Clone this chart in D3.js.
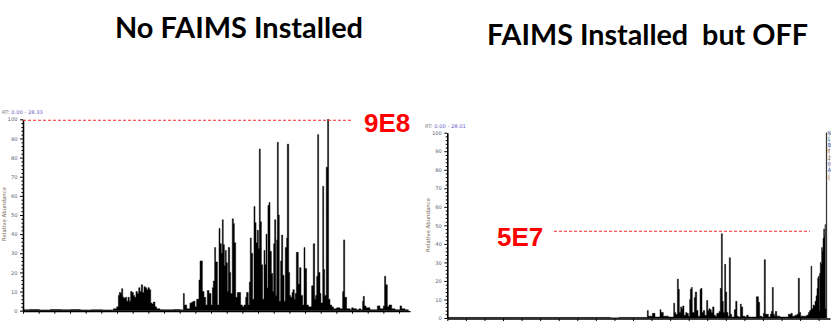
<!DOCTYPE html>
<html><head><meta charset="utf-8">
<script src="https://cdn.jsdelivr.net/npm/d3@7"></script>
<style>body{margin:0;background:#fff}svg{display:block}</style>
</head><body>
<svg id="c" width="831" height="321"></svg>
<script>
// ---------- data ----------
const titles = ["No FAIMS Installed", "FAIMS Installed  but OFF"];
const intensityLabels = ["9E8", "5E7"];
const rtRanges = ["RT: 0.00 - 28.33", "RT: 0.00 - 28.01"];
const yAxisTitle = "Relative Abundance";
const yMajorTicks = [0,10,20,30,40,50,60,70,80,90,100];
const yMinorTicks = [2,4,6,8,12,14,16,18,22,24,26,28,32,34,36,38,42,44,46,48,52,54,56,58,62,64,66,68,72,74,76,78,82,84,86,88,92,94,96,98];
const markerLevels = [99.5, 46.8];   // red dashed reference lines (% of base peak)
const rtMax = [28.33, 28.01];
const rtTickStep = [1.147, 1.359];
const legendLetters = ["N","L","B","F","2","H","A","("];
const legendColors = ["#4a6fa5","#2a9d9d","#3a6fc0","#b5651d","#8a7a60","#3a6fc0","#3a6fc0","#d08040"];

// [retention time (min), relative abundance (%)]
const leftTrace = [
[0,0.5],[0.5,0.6],[1.2,0.4],[2.0,0.6],[2.8,0.5],[3.5,0.6],[4.2,0.4],[5.0,0.5],[5.8,0.4],[6.5,0.3],
[6.61,1],[6.86,2],[6.98,8],[7.05,9.5],[7.15,9],[7.22,11.5],[7.30,7],[7.39,6.5],[7.49,7],[7.59,5],
[7.69,7],[7.78,5],[7.88,10],[7.98,9.5],[8.08,8],[8.17,7],[8.27,10],[8.37,9],[8.47,12],[8.56,10],
[8.66,13.5],[8.76,9.5],[8.86,12.5],[8.95,12],[9.05,11],[9.15,12],[9.25,11],[9.35,4],[9.44,3.5],[9.54,4.5],
[9.66,2],[9.78,1],[10.03,0.5],[10.52,0.5],[11.00,0.6],[11.49,0.5],[11.66,0.3],[11.74,9],[11.81,3],[11.98,1],
[12.22,4],[12.35,4.5],[12.47,5],[12.59,2],[12.71,6],[12.88,16],[12.96,26],[13.05,26],[13.13,10],[13.25,7],
[13.37,3],[13.49,10.5],[13.62,9],[13.76,3],[13.86,12],[13.93,15.5],[14.03,33],[14.10,25.5],[14.23,3],[14.35,43],
[14.42,35],[14.52,30],[14.59,47.5],[14.66,34.5],[14.74,23.5],[14.81,31.5],[14.88,25],[14.96,10],[15.03,33],[15.13,20],
[15.20,9],[15.32,48],[15.40,45.5],[15.47,35.5],[15.57,7],[15.69,9.5],[15.81,9.5],[15.93,3],[16.06,2],[16.18,3],
[16.30,7],[16.37,9.5],[16.49,3],[16.57,15],[16.64,38],[16.71,30],[16.81,6],[16.91,54.5],[16.98,46],[17.06,35.5],
[17.15,42],[17.23,32.5],[17.30,84.5],[17.37,46.5],[17.45,24],[17.54,6],[17.64,31.5],[17.71,24],[17.79,40],[17.86,12],
[17.93,55],[18.01,56.5],[18.08,31],[18.18,19.5],[18.28,10],[18.35,35],[18.42,47.5],[18.50,8],[18.57,37],[18.62,88],
[18.69,50],[18.76,5],[18.86,26],[18.93,39.5],[19.01,18.5],[19.11,5],[19.20,33],[19.30,38],[19.35,87],[19.45,20],
[19.52,8],[19.59,7],[19.69,9.5],[19.76,11],[19.86,6],[19.93,9],[20.01,30.5],[20.08,30.5],[20.15,14],[20.25,22.5],
[20.35,8],[20.47,3],[20.57,33],[20.64,22],[20.76,3],[20.89,2],[21.01,2],[21.13,13],[21.25,35],[21.35,6],
[21.42,8],[21.50,18],[21.57,92],[21.64,20],[21.74,9],[21.81,4],[21.94,65],[22.01,21.5],[22.08,8],[22.20,75],
[22.30,100],[22.37,6],[22.47,3],[22.59,2],[22.72,1],[22.96,1.5],[23.20,1],[23.40,10],[23.47,37],[23.55,7],
[23.69,1],[23.94,0.5],[24.06,1.5],[24.18,1],[24.42,0.5],[24.60,1],[24.72,0.5],[24.86,5],[24.91,7.5],[24.99,2.5],
[25.11,1.5],[25.40,0.5],[25.65,0.5],[25.94,2.5],[26.13,1],[26.38,2.5],[26.47,18],[26.55,13.5],[26.67,2],[26.79,3],
[26.99,1],[27.23,0.5],[27.60,2.5],[27.72,1],[27.96,0.5],[28.21,0.3]
];

const rightTrace = [
[0,0.3],[5,0.3],[10,0.3],[11.91,0.3],[11.93,0],[12.54,0],[12.57,0.3],[14.2,0.3],
[14.64,4],[14.71,1],[15.01,2.5],[15.10,2.5],[15.20,0.5],[15.57,4.5],[15.64,3],[15.81,1],[16.18,0.5],
[16.57,8],[16.64,3],[16.71,2],[16.84,21],[16.91,15.5],[16.98,3],[17.08,6],[17.15,5],[17.23,6.5],[17.32,1.5],
[17.45,3],[17.52,2.5],[17.64,1],[17.74,10],[17.79,15.5],[17.86,16.5],[17.93,3],[18.08,11],[18.15,14],[18.25,4],
[18.35,1],[18.50,15.5],[18.57,16],[18.64,3],[18.74,4],[18.84,1.5],[18.98,9.5],[19.06,4],[19.15,5],[19.23,4.5],
[19.32,3],[19.42,6],[19.52,1.5],[19.62,1],[19.72,2.5],[19.89,3.5],[19.98,16],[20.06,45.5],[20.13,9],[20.20,3],
[20.30,29],[20.37,14],[20.45,3],[20.54,1],[20.64,32.5],[20.72,2],[20.81,0.5],[21.01,4.5],[21.11,9],[21.20,1],
[21.30,0.5],[21.45,7.5],[21.52,6],[21.62,1],[21.79,0.5],[21.91,1.5],[22.03,0.5],[22.52,0.5],[22.62,11.5],[22.69,11.5],
[22.77,8.5],[22.86,1],[23.01,0.5],[23.13,2.5],[23.20,31.5],[23.28,2],[23.50,0.5],[23.64,2],[23.72,3.5],[23.79,16.5],
[23.86,2],[23.94,1],[24.01,3.5],[24.11,1],[24.35,0.5],[24.72,0.5],[24.96,2],[25.06,2],[25.16,2.5],[25.25,1],
[25.45,1.5],[25.60,2],[25.69,21.5],[25.77,3],[25.86,1],[26.06,1],[26.30,1.5],[26.43,3],[26.52,4],[26.62,28],
[26.67,5],[26.77,7],[26.84,6.5],[26.91,9],[26.99,12],[27.06,16],[27.11,21.5],[27.16,22.5],[27.21,4],[27.25,24],
[27.30,30],[27.35,29],[27.40,38],[27.45,36],[27.50,43],[27.55,48],[27.60,44],[27.65,50.5],[27.67,5],[27.72,2],
[27.74,100],[27.77,0]
];

// ---------- layout ----------
const panels = [
  {trace:leftTrace,  x0:23,    x1:410, yTop:119.3, yBot:310.7, markX:[23,351],  lab:{x:364,y:132.3}, rt:{x:2,y:114}, ytl:{x:6,y:214},
   title:{x:115,y:38, w:248}},
  {trace:rightTrace, x0:447.3, x1:830, yTop:132.7, yBot:318,   markX:[554,810], lab:{x:497,y:245.7}, rt:{x:425,y:127.5}, ytl:{x:430,y:225},
   title:{x:487,y:45, w:321}}
];

const svg = d3.select("#c");

panels.forEach((p, i) => {
  const x = d3.scaleLinear().domain([0, rtMax[i]]).range([p.x0, p.x1]);
  const y = d3.scaleLinear().domain([0, 100]).range([p.yBot, p.yTop]);
  const g = svg.append("g");

  // title
  svg.append("text").attr("x", p.title.x).attr("y", p.title.y)
    .attr("font-family", "Lato, 'Open Sans', sans-serif").attr("font-weight", 700)
    .attr("font-size", 28.5).attr("fill", "#000")
    .attr("textLength", p.title.w).attr("lengthAdjust", "spacingAndGlyphs")
    .style("white-space", "pre").text(titles[i]);

  // trace (stick-like stepped profile)
  const area = d3.area().curve(d3.curveStepAfter).x(d => x(d[0])).y0(y(0)).y1(d => y(d[1]));
  g.append("path").datum(p.trace).attr("d", area).attr("fill", "#000")
    .attr("stroke", "#000").attr("stroke-width", 0.5);

  // x axis
  const xt = d3.range(0, rtMax[i] + 0.001, rtTickStep[i]);
  const xa = g.append("g").attr("transform", `translate(0,${p.yBot + 0.5})`)
    .call(d3.axisBottom(x).tickValues(xt).tickSize(2.5).tickSizeOuter(0).tickFormat(""));
  xa.select(".domain").attr("stroke", "#000").attr("stroke-width", 1.3);
  xa.selectAll(".tick line").attr("stroke", "#000");

  // y axis minor
  const ym = g.append("g").attr("transform", `translate(${p.x0},0)`)
    .call(d3.axisLeft(y).tickValues(yMinorTicks).tickSize(1.6).tickFormat(""));
  ym.select(".domain").remove();
  ym.selectAll(".tick line").attr("stroke", "#000");
  // y axis major
  const ya = g.append("g").attr("transform", `translate(${p.x0},0)`)
    .call(d3.axisLeft(y).tickValues(yMajorTicks).tickSize(3).tickSizeOuter(0).tickPadding(2.5).tickFormat(d3.format("d")));
  ya.select(".domain").attr("stroke", "#000").attr("stroke-width", 1.6);
  ya.selectAll(".tick line").attr("stroke", "#000");
  ya.selectAll(".tick text").attr("font-family", "'DejaVu Sans', sans-serif")
    .attr("font-size", 5.2).attr("fill", "#56647a");

  // RT range
  const rt = svg.append("text").attr("x", p.rt.x).attr("y", p.rt.y)
    .attr("font-family", "'DejaVu Sans', sans-serif").attr("font-size", 5.2);
  rt.append("tspan").attr("fill", "#7a7f8a").text(rtRanges[i].slice(0, 4));
  rt.append("tspan").attr("fill", "#6a5ac8").text(rtRanges[i].slice(4));

  // y title
  svg.append("text").attr("transform", `translate(${p.ytl.x},${p.ytl.y}) rotate(-90)`)
    .attr("text-anchor", "middle").attr("font-family", "'DejaVu Sans', sans-serif")
    .attr("font-size", 5.4).attr("fill", "#7a6450").text(yAxisTitle);

  // red dashed marker line
  svg.append("line").attr("x1", p.markX[0]).attr("x2", p.markX[1])
    .attr("y1", y(markerLevels[i])).attr("y2", y(markerLevels[i]))
    .attr("stroke", "#ff2a2a").attr("stroke-width", 1).attr("stroke-dasharray", "3,2");

  // intensity label
  svg.append("text").attr("x", p.lab.x).attr("y", p.lab.y)
    .attr("font-family", "'Liberation Sans', Arial, sans-serif").attr("font-weight", 700)
    .attr("font-size", 26).attr("fill", "#ff0000").text(intensityLabels[i]);
});

// cropped legend letters at the far right of the second panel
svg.append("line").attr("x1", 829.5).attr("x2", 829.5).attr("y1", 132).attr("y2", 181)
  .attr("stroke", "#ccc").attr("stroke-width", 0.8);
legendLetters.forEach((t, k) => {
  svg.append("text").attr("x", 827.5).attr("y", 134.5 + k * 6.3)
    .attr("font-family", "'DejaVu Sans', sans-serif").attr("font-size", 5.5)
    .attr("fill", legendColors[k]).text(t);
});
</script>
</body></html>
